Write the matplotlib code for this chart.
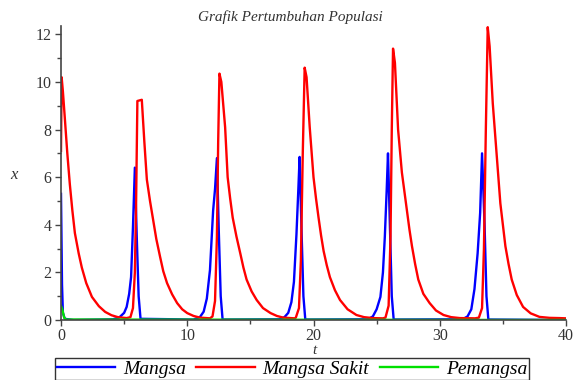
import matplotlib.pyplot as plt

# Mangsa (biru)
t_mangsa = [0, 0.08, 0.15, 0.3, 1.0, 4.1, 4.6, 5.0, 5.2, 5.4, 5.55, 5.7, 5.85, 6.0, 6.15, 6.3,
            10.5, 11.0, 11.3, 11.55, 11.8, 12.05, 12.2, 12.35, 12.5, 12.65, 12.8,
            17.3, 17.7, 18.0, 18.25, 18.45, 18.65, 18.8, 18.9, 19.05, 19.2, 19.35,
            24.3, 24.7, 25.0, 25.3, 25.5, 25.65, 25.8, 25.9, 26.05, 26.2, 26.35,
            31.8, 32.2, 32.5, 32.75, 33.0, 33.2, 33.35, 33.55, 33.7, 33.85, 40]
x_mangsa = [5.3, 1.5, 0.3, 0.05, 0.0, 0.03, 0.1, 0.3, 0.55, 1.1, 1.8, 3.9, 6.4, 3.5, 1.0, 0.05,
            0.02, 0.12, 0.35, 0.9, 2.1, 4.6, 5.5, 6.8, 3.7, 1.0, 0.02,
            0.03, 0.12, 0.3, 0.75, 1.6, 3.6, 5.5, 6.85, 3.8, 1.0, 0.02,
            0.03, 0.15, 0.45, 0.97, 2.0, 3.5, 5.5, 7.0, 4.0, 1.0, 0.02,
            0.03, 0.15, 0.45, 1.3, 2.8, 4.5, 7.0, 4.0, 1.0, 0.02, 0.0]

# Mangsa Sakit (merah)
t_sakit = [0, 0.05, 0.15, 0.3, 0.5, 0.7, 0.9, 1.1, 1.4, 1.65, 2.0, 2.45, 3.0, 3.5, 4.0, 4.5, 5.2,
           5.5, 5.7, 5.85, 5.95, 6.05, 6.4, 6.6, 6.8, 7.05, 7.3, 7.55, 7.85, 8.1, 8.4, 8.8, 9.2,
           9.6, 10.0, 10.5, 11.0, 11.8,
           12.0, 12.2, 12.35, 12.45, 12.55, 12.7, 13.0, 13.2, 13.4, 13.6, 13.9, 14.2, 14.45, 14.7,
           15.1, 15.5, 16.0, 16.6, 17.1, 17.6, 18.5,
           18.6, 18.85, 19.0, 19.15, 19.3, 19.45, 19.7, 20.0, 20.2, 20.4, 20.6, 20.8, 21.05, 21.3,
           21.7, 22.1, 22.7, 23.4, 24.0, 24.7, 25.5,
           25.7, 25.95, 26.1, 26.2, 26.3, 26.45, 26.7, 27.0, 27.2, 27.4, 27.6, 27.8, 28.05, 28.3,
           28.7, 29.2, 29.7, 30.3, 30.9, 31.6, 32.8,
           33.1, 33.35, 33.5, 33.65, 33.8, 33.95, 34.2, 34.5, 34.8, 35.0, 35.2, 35.45, 35.7, 36.1,
           36.6, 37.2, 37.9, 38.7, 39.5, 40]
x_sakit = [7.1, 10.2, 9.6, 8.5, 7.0, 5.7, 4.6, 3.65, 2.8, 2.2, 1.55, 0.97, 0.58, 0.34, 0.2, 0.12, 0.08,
           0.12, 0.5, 2.0, 5.0, 9.2, 9.25, 7.5, 5.9, 5.0, 4.2, 3.4, 2.65, 2.05, 1.55, 1.08, 0.71,
           0.45, 0.29, 0.17, 0.1, 0.07,
           0.15, 0.8, 3.5, 7.5, 10.35, 10.0, 8.1, 6.0, 5.1, 4.3, 3.5, 2.8, 2.2, 1.7,
           1.2, 0.84, 0.5, 0.29, 0.17, 0.1, 0.07,
           0.1, 0.5, 2.5, 7.0, 10.6, 10.2, 8.1, 6.0, 5.1, 4.3, 3.55, 2.9, 2.3, 1.8,
           1.25, 0.84, 0.45, 0.21, 0.12, 0.08, 0.07,
           0.1, 0.6, 3.5, 8.0, 11.4, 10.8, 8.0, 6.2, 5.4, 4.6, 3.8, 3.1, 2.35, 1.7,
           1.1, 0.71, 0.4, 0.21, 0.12, 0.08, 0.07,
           0.1, 0.5, 3.0, 8.0, 12.3, 11.5, 9.1, 7.0, 4.9, 4.0, 3.1, 2.35, 1.7, 1.05,
           0.55, 0.28, 0.13, 0.09, 0.08, 0.07]

# Pemangsa (hijau)
t_pemangsa = [0, 0.1, 0.25, 0.4, 40]
x_pemangsa = [0.6, 0.45, 0.1, 0.02, 0.0]

plt.rcParams['font.family'] = 'Liberation Serif'

fig = plt.figure(figsize=(5.74, 3.80), dpi=100)
ax = fig.add_axes([61 / 574, 1 - 320 / 380, 505 / 574, 294 / 380])

ax.plot(t_mangsa, x_mangsa, color='#0000ff', lw=1.7, label='Mangsa')
ax.plot(t_sakit, x_sakit, color='#ff0000', lw=1.7, label='Mangsa Sakit')
ax.plot(t_pemangsa, x_pemangsa, color='#00e000', lw=1.7, label='Pemangsa')

ax.set_xlim(0, 40)
ax.set_ylim(0, 12.35)
for s in ['top', 'right']:
    ax.spines[s].set_visible(False)
for s in ['left', 'bottom']:
    ax.spines[s].set_color('#444444')
    ax.spines[s].set_linewidth(1.2)

ax.set_xticks([0, 10, 20, 30, 40])
ax.set_xticks([5, 15, 25, 35], minor=True)
ax.set_yticks([0, 2, 4, 6, 8, 10, 12])
ax.set_yticks([1, 3, 5, 7, 9, 11], minor=True)
ax.tick_params(which='major', length=4, width=1, color='#444444', labelsize=11.5,
               labelcolor='#333333', pad=3)
ax.tick_params(axis='x', which='major', pad=1.5)
ax.tick_params(which='minor', length=3, width=1, color='#444444')

fig.text(290 / 574, 1 - 17 / 380, 'Grafik Pertumbuhan Populasi', ha='center', va='center',
         style='italic', fontsize=11, color='#333333')
fig.text(314 / 574, 1 - 351 / 380, 't', ha='center', va='center', style='italic',
         fontsize=11, color='#333333')
fig.text(14 / 574, 1 - 175 / 380, 'x', ha='center', va='center', style='italic',
         fontsize=12, color='#333333')

leg = fig.legend(loc='center', bbox_to_anchor=(292 / 574, 1 - 369 / 380), ncol=3,
                 prop={'style': 'italic', 'size': 14}, frameon=True, fancybox=False,
                 edgecolor='#333333', framealpha=1, handlelength=3.0, columnspacing=0.55,
                 handletextpad=0.4, borderpad=0.1, borderaxespad=0)
leg.get_frame().set_linewidth(1.0)

fig.savefig('out.png', dpi=100)
